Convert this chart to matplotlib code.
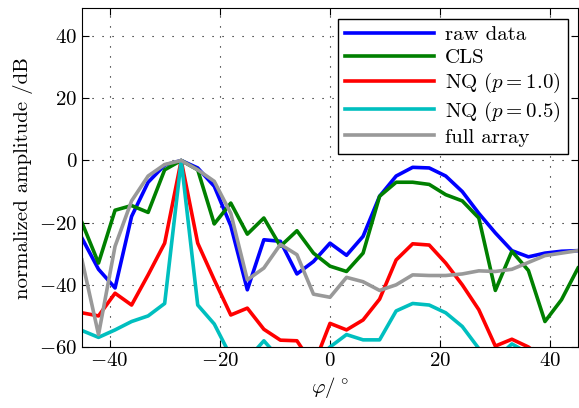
import matplotlib
matplotlib.use("Agg")
import matplotlib.pyplot as plt
import numpy as np

plt.rcParams["font.family"] = "serif"
plt.rcParams["font.serif"] = ["cmr10"]
plt.rcParams["mathtext.fontset"] = "cm"
plt.rcParams["axes.formatter.use_mathtext"] = True

# angles in degrees, 3 degree steps
phi = np.arange(-45, 46, 3)

raw_data = [-25, -35, -41, -18, -7, -1.5, 0, -2.4, -8.3, -21, -41.6,
            -25.5, -26, -36.5, -32.5, -26.6, -30.5, -24.4, -11.5, -5, -2.2,
            -2.4, -5, -10, -17, -23.3, -29, -31, -29.8, -29.2, -29]
cls = [-20, -33, -16, -14.5, -16.7, -3, 0, -3, -20.4, -13.7, -23.7,
       -18.5, -27.6, -22.6, -29.8, -34, -35.7, -29.8, -11.5, -7, -7,
       -7.7, -11, -13, -18.5, -41.8, -29.2, -35.4, -51.8, -44.8, -34.6]
nq_10 = [-49, -50, -42.7, -46.5, -36.8, -26.6, 0, -26.6, -38.4, -49.7, -47.5,
         -54.3, -57.8, -58, -66, -52.4, -54.5, -51.3, -44.6, -32, -26.8,
         -27.2, -33, -40, -48, -59.7, -57.5, -60, -64, -67, -68]
nq_05 = [-54.7, -56.9, -54.5, -51.8, -50, -46, 0, -46.5, -52.6, -63, -64,
         -58, -64, -66, -65, -60, -56, -57.7, -57.7, -48.4, -46,
         -46.5, -49, -53.4, -60.5, -64, -59, -62, -66, -68, -70]
full_array = [-32, -56, -27.6, -13, -5, -1.3, 0, -3, -6.7, -17, -38.4,
              -34.6, -27, -30.3, -43, -44, -37.6, -39, -41.8, -40, -36.8,
              -37, -37, -36.5, -35.5, -35.7, -35, -32.8, -30.6, -29.8, -29]

series = [
    (raw_data, "raw data", "#0000ff"),
    (cls, "CLS", "#008000"),
    (nq_10, "NQ ($p=1.0$)", "#ff0000"),
    (nq_05, "NQ ($p=0.5$)", "#00bfbf"),
    (full_array, "full array", "#999999"),
]

fig = plt.figure(figsize=(5.79, 4.08), dpi=100)
ax = fig.add_axes([0.1416, 0.1495, 0.8567, 0.8305])

for vals, label, col in series:
    ax.plot(phi, vals, color=col, lw=2.6, label=label)

ax.set_xlim(-45, 45)
ax.set_ylim(-60, 49)
ax.set_xticks([-40, -20, 0, 20, 40])
ax.set_yticks([-60, -40, -20, 0, 20, 40])
ax.grid(True, color="black", linestyle=(0, (1, 8)), linewidth=0.8)
ax.tick_params(direction="in", top=True, right=True, labelsize=15, length=5)
ax.set_xlabel(r"$\varphi/^\circ$", fontsize=15)
ax.set_ylabel("normalized amplitude /dB", fontsize=15)

leg = ax.legend(loc="upper right", fontsize=15, fancybox=False, framealpha=1,
                edgecolor="black", handlelength=4.3, labelspacing=0.2,
                handletextpad=0.5, borderpad=0.35, borderaxespad=0.5)
leg.get_frame().set_linewidth(1.0)

fig.savefig("out.png", dpi=100)
